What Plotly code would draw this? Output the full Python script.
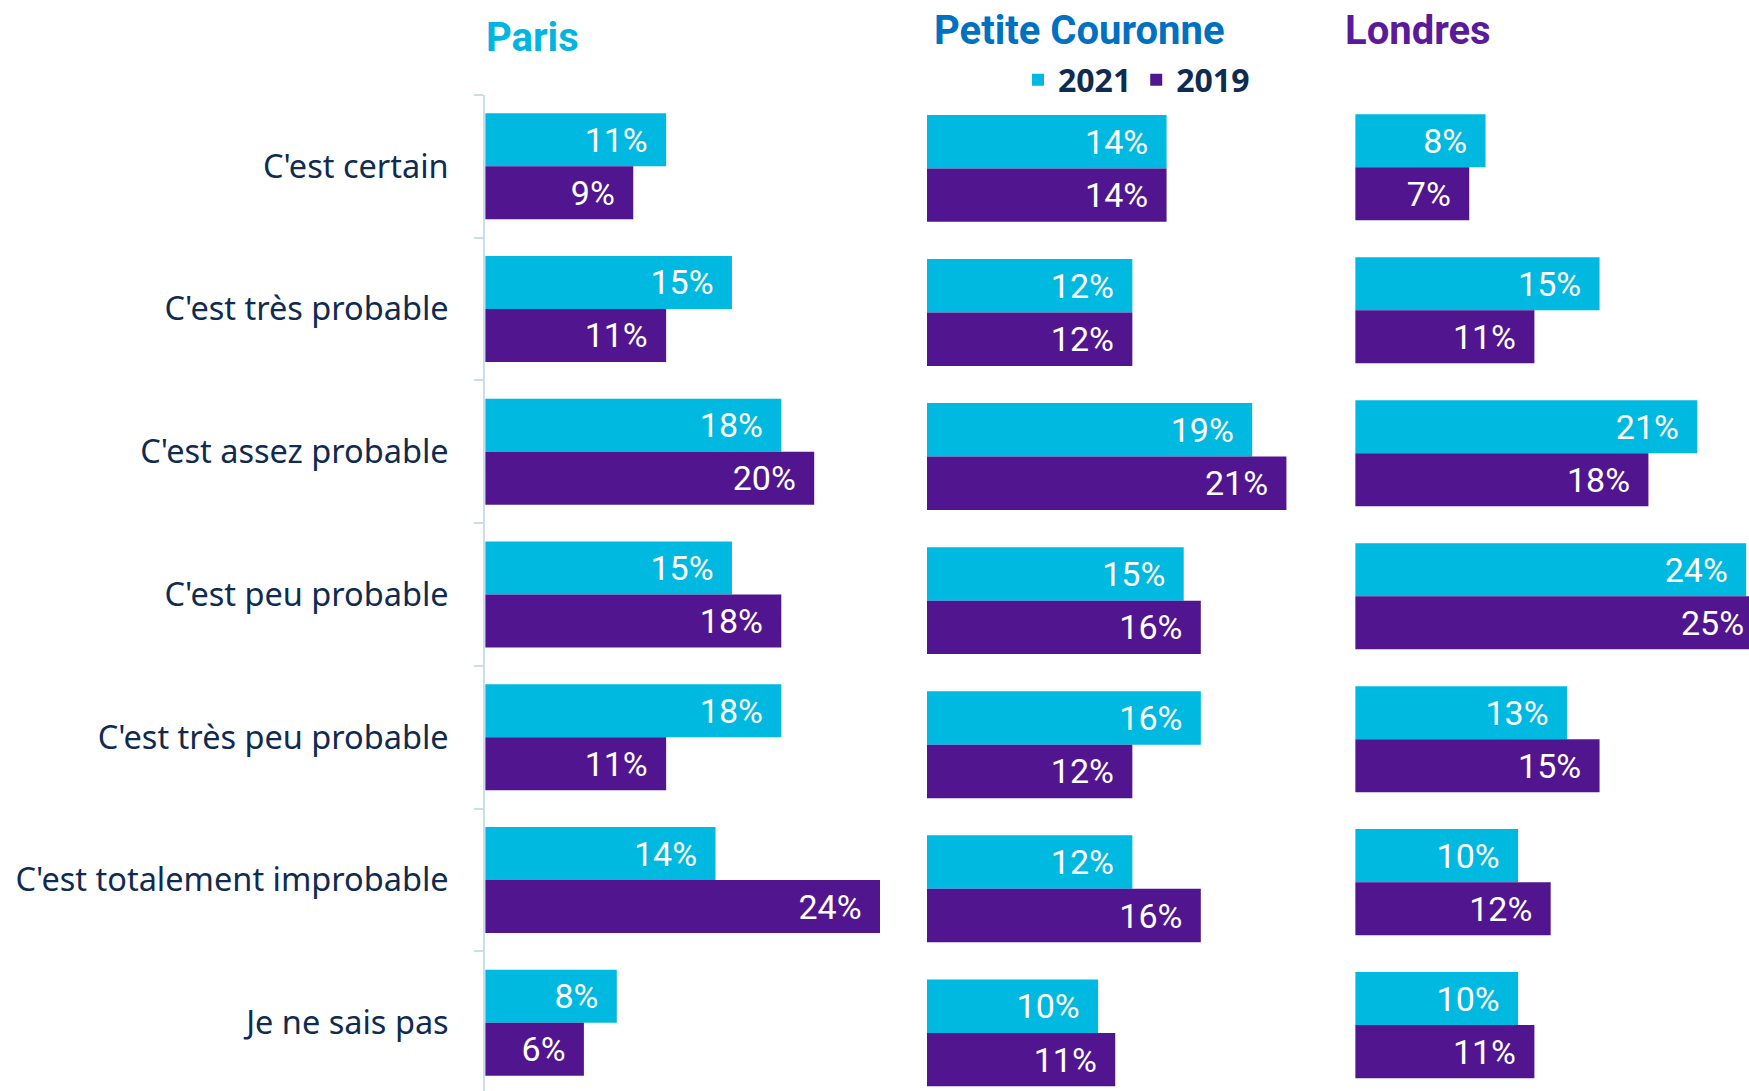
import plotly.graph_objects as go

# ---------------- data ----------------
categories = ["C'est certain", "C'est très probable", "C'est assez probable",
              "C'est peu probable", "C'est très peu probable",
              "C'est totalement improbable", "Je ne sais pas"]
years = ["2021", "2019"]
panel_titles = ["Paris", "Petite Couronne", "Londres"]

paris_2021 = [11, 15, 18, 15, 18, 14, 8]
paris_2019 = [9, 11, 20, 18, 11, 24, 6]
pc_2021 = [14, 12, 19, 15, 16, 12, 10]
pc_2019 = [14, 12, 21, 16, 12, 16, 11]
lon_2021 = [8, 15, 21, 24, 13, 10, 10]
lon_2019 = [7, 11, 18, 25, 15, 12, 11]

# ---------------- styles / layout ----------------
W, H = 1749, 1091
C2021 = "#00B9E0"
C2019 = "#51168F"
NAVY = "#0F2B50"
AXIS_COL = "#C9DCF2"
NARROW = "Roboto, Liberation Sans Narrow, sans-serif"
TITLE_COLORS = ["#00B5DF", "#0070C0", "#5A1A9A"]

# per panel geometry in pixels: x_left, x_right, px per %, first/last category centre
geo = [
    dict(xl=485.2, xr=900.0, ppp=16.45, c0=166.2, c6=1022.8, tx=484, ty=37),
    dict(xl=926.9, xr=1340.0, ppp=17.12, c0=168.4, c6=1032.9, tx=932, ty=31),
    dict(xl=1355.2, xr=1749.0, ppp=16.29, c0=167.3, c6=1025.1, tx=1343, ty=31),
]
values = [(paris_2021, paris_2019), (pc_2021, pc_2019), (lon_2021, lon_2019)]

fig = go.Figure()
n = len(categories)
for i, (g, vals) in enumerate(zip(geo, values)):
    xa = "x" if i == 0 else f"x{i+1}"
    ya = "y" if i == 0 else f"y{i+1}"
    for yr, v, col in zip(years, vals, [C2021, C2019]):
        fig.add_trace(go.Bar(
            y=categories, x=v, orientation="h", name=yr,
            marker=dict(color=col, line=dict(width=0)),
            texttemplate="%{x}%\u00a0\u2009", textposition="inside",
            insidetextanchor="end", constraintext="none",
            textfont=dict(color="white", size=34, family=NARROW),
            xaxis=xa, yaxis=ya, legendgroup=yr, showlegend=(i == 0),
            hoverinfo="skip",
        ))

layout = dict(
    width=W, height=H, margin=dict(l=0, r=0, t=0, b=0),
    paper_bgcolor="white", plot_bgcolor="white",
    barmode="group", bargap=0.258, bargroupgap=0,
    showlegend=True,
    legend=dict(orientation="h", x=1018 / W, y=1 - 80 / H, xanchor="left",
                yanchor="middle", bgcolor="rgba(0,0,0,0)",
                font=dict(family="Noto Sans", size=32, color=NAVY, weight="bold"),
                traceorder="normal"),
)

for i, g in enumerate(geo):
    xkey = "xaxis" if i == 0 else f"xaxis{i+1}"
    ykey = "yaxis" if i == 0 else f"yaxis{i+1}"
    ya = "y" if i == 0 else f"y{i+1}"
    xa = "x" if i == 0 else f"x{i+1}"
    s = (g["c6"] - g["c0"]) / (n - 1)
    layout[xkey] = dict(domain=[g["xl"] / W, g["xr"] / W],
                        range=[0, (g["xr"] - g["xl"]) / g["ppp"]],
                        anchor=ya, showgrid=False, zeroline=False,
                        showticklabels=False, showline=False, ticks="",
                        fixedrange=True)
    bottom = (n - 1) + (H - g["c6"]) / s
    if i == 0:
        top_px = g["c0"] - s / 2
        layout[ykey] = dict(domain=[0, 1 - top_px / H], range=[bottom, -0.5],
                            anchor=xa, showgrid=False, zeroline=False,
                            showline=True, linecolor=AXIS_COL, linewidth=2,
                            ticks="outside", tickson="boundaries", ticklen=9,
                            tickcolor=AXIS_COL, tickwidth=2,
                            ticklabelstandoff=28,
                            tickfont=dict(family="Noto Sans", size=32.5, color=NAVY),
                            fixedrange=True)
    else:
        layout[ykey] = dict(domain=[0, 1], range=[bottom, -g["c0"] / s],
                            anchor=xa, showgrid=False, zeroline=False,
                            showline=False, ticks="", showticklabels=False,
                            fixedrange=True)

annotations = []
for t, g, c in zip(panel_titles, geo, TITLE_COLORS):
    annotations.append(dict(text=t, x=g["tx"] / W, y=1 - g["ty"] / H,
                            xref="paper", yref="paper", xanchor="left",
                            yanchor="middle", showarrow=False,
                            font=dict(family=NARROW, size=40, color=c,
                                      weight="bold")))
layout["annotations"] = annotations

fig.update_layout(**layout)
fig.write_html("out.html", config={"displayModeBar": False},
               post_script="document.body.style.margin='0';")
